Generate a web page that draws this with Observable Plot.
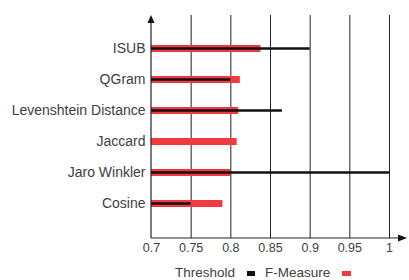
<!DOCTYPE html>
<html>
<head>
<meta charset="utf-8">
<script src="https://cdn.jsdelivr.net/npm/d3@7"></script>
<script src="https://cdn.jsdelivr.net/npm/@observablehq/plot@0.6"></script>
<style>
  html, body { margin: 0; padding: 0; background: #fff; }
  body { width: 409px; height: 280px; overflow: hidden; position: relative; font-family: "Liberation Sans", Arial, sans-serif; }
  #legend { position: absolute; left: 0; top: 265px; width: 409px; height: 15px; line-height: 15px; font-size: 13.5px; color: #404040; white-space: nowrap; }
  #legend span { position: absolute; top: 0; }
  #legend .sw { top: 6px; height: 5px; }
</style>
</head>
<body>
<div id="chart"></div>
<div id="legend"></div>
<script>
const categories = ["ISUB", "QGram", "Levenshtein Distance", "Jaccard", "Jaro Winkler", "Cosine"];
const threshold = [0.90, 0.80, 0.865, 0.70, 1.00, 0.75];
const fMeasure  = [0.838, 0.812, 0.81, 0.808, 0.80, 0.79];
const xTicks = [0.7, 0.75, 0.8, 0.85, 0.9, 0.95, 1];
const xTickLabels = ["0.7", "0.75", "0.8", "0.85", "0.9", "0.95", "1"];
const seriesNames = ["Threshold", "F-Measure"];
const seriesColors = ["#111111", "#f03a3d"];

const rows = categories.map((c, i) => ({category: c, threshold: threshold[i], f: fMeasure[i]}));

const W = 409, H = 264, mL = 151, mR = 20, mT = 15, mB = 26;

const plot = Plot.plot({
  width: W,
  height: H,
  marginLeft: mL,
  marginRight: mR,
  marginTop: mT,
  marginBottom: mB,
  style: {fontFamily: '"Liberation Sans", Arial, sans-serif', color: "#404040", background: "#fff"},
  x: {domain: [0.7, 1], label: null},
  y: {type: "point", domain: categories, range: [47.3, 203.3], padding: 0, label: null},
  marks: [
    Plot.ruleX(xTicks.slice(1), {stroke: "#222", strokeWidth: 1}),
    Plot.ruleY(rows, {y: "category", x1: 0.7, x2: "f", stroke: seriesColors[1], strokeWidth: 7}),
    Plot.ruleY(rows.filter(d => d.threshold > 0.7), {y: "category", x1: 0.7, x2: "threshold", stroke: seriesColors[0], strokeWidth: 2.5}),
    Plot.axisX({ticks: xTicks, tickFormat: (d) => xTickLabels[xTicks.indexOf(d)], tickSize: 0, tickPadding: 5, fontSize: 12.5, label: null}),
    Plot.axisY({tickSize: 0, tickPadding: 6, fontSize: 14, label: null})
  ]
});

document.getElementById("chart").appendChild(plot);

// axis lines with arrowheads, positioned from the scales
const sx = plot.scale("x");
const svg = d3.select(plot);
const x0 = sx.apply(0.7);
const yBottom = H - mB, yTop = mT;
const xEnd = W - 2;
const g = svg.append("g");
g.append("line").attr("x1", x0).attr("x2", x0).attr("y1", yBottom).attr("y2", yTop + 4).attr("stroke", "#222").attr("stroke-width", 1.2);
g.append("path").attr("d", `M${x0},${yTop}L${x0 - 3.5},${yTop + 8}L${x0 + 3.5},${yTop + 8}Z`).attr("fill", "#111");
g.append("line").attr("x1", x0).attr("x2", xEnd - 4).attr("y1", yBottom).attr("y2", yBottom).attr("stroke", "#222").attr("stroke-width", 1.2);
g.append("path").attr("d", `M${xEnd},${yBottom}L${xEnd - 9},${yBottom - 3.5}L${xEnd - 9},${yBottom + 3.5}Z`).attr("fill", "#111");

// legend
const legend = document.getElementById("legend");
const textLeft = [175, 265], swLeft = [247, 342], swWidth = [8, 9];
seriesNames.forEach((n, i) => {
  const t = document.createElement("span");
  t.textContent = n;
  t.style.left = textLeft[i] + "px";
  legend.appendChild(t);
  const s = document.createElement("span");
  s.className = "sw";
  s.style.left = swLeft[i] + "px";
  s.style.width = swWidth[i] + "px";
  s.style.background = seriesColors[i];
  legend.appendChild(s);
});
</script>
</body>
</html>
